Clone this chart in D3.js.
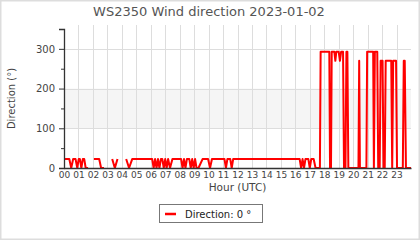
<!DOCTYPE html>
<html lang="en">
<head>
  <meta charset="UTF-8">
  <title>WS2350 Wind direction</title>
  <script src="https://d3js.org/d3.v7.min.js"></script>
  <style>
    body { margin: 0; background: #fff; }
    text { font-family: "DejaVu Sans", sans-serif; fill: #444; }
    .grid { stroke: #ddd; stroke-width: 1; }
    .axis path, .axis line { stroke: #333; }
  </style>
</head>
<body>
  <svg id="chart" width="420" height="240"></svg>

  <script>
    const title = "WS2350 Wind direction 2023-01-02";
    const hourLabels = ["00","01","02","03","04","05","06","07","08","09","10","11",
                        "12","13","14","15","16","17","18","19","20","21","22","23"];
    const yTicks = [0, 100, 200, 300];
    const yMinorTicks = [50, 150, 250, 350];
    const shadedBand = [100, 200];

    // [minute of day, direction in degrees]; null = no reading
    const windDir = [
      [0,22.5],[22,22.5],[30,0],[38,22.5],[48,22.5],[55,0],[61,22.5],[66,22.5],[72,0],[78,22.5],
      [84,22.5],[90,0],[100,0],[101,null],
      [124,22.5],[146,22.5],[154,0],[166,0],[167,null],
      [200,22.5],[211,0],[222,22.5],[223,null],
      [258,22.5],[270,0],[283,22.5],
      [366,22.5],[372,0],[378,22.5],[384,0],[390,22.5],[396,0],[402,22.5],[408,22.5],[414,0],
      [420,22.5],[426,0],[432,22.5],[440,0],[450,22.5],
      [486,22.5],[492,0],[498,22.5],[504,0],[510,22.5],[520,22.5],[526,0],[532,22.5],[538,0],
      [544,22.5],[550,0],[558,0],[575,22.5],
      [598,22.5],[606,0],[614,22.5],
      [666,22.5],[672,0],[678,22.5],[690,22.5],[696,0],[702,22.5],
      [978,22.5],[984,0],[990,22.5],[996,0],[1002,22.5],[1014,22.5],[1020,0],[1026,22.5],
      [1036,22.5],[1044,0],[1062,0],
      [1065,292.5],[1101,292.5],[1104,0],[1108,0],[1111,292.5],[1122,292.5],[1126,270],[1130,292.5],
      [1140,292.5],[1145,270],[1150,292.5],[1158,292.5],[1162,0],[1168,0],[1172,292.5],[1176,292.5],
      [1180,0],[1222,0],[1225,270],[1228,0],[1255,0],[1258,292.5],[1283,292.5],[1286,0],
      [1290,292.5],[1300,292.5],[1304,0],[1310,0],[1314,270],[1322,270],[1326,0],[1331,0],
      [1335,270],[1358,270],[1362,0],[1366,270],[1378,270],[1382,0],[1406,0],[1410,270],
      [1414,270],[1419,0],[1440,0]
    ];

    const svg = d3.select("#chart");
    const W = 420, H = 240;
    const mLeft = 64, mRight = 411, mTop = 29, mBottom = 168;

    const x = d3.scaleLinear().domain([0, 1440]).range([mLeft, mRight]);
    const y = d3.scaleLinear().domain([0, 350]).range([mBottom, mTop]);

    // outer frame
    svg.append("rect")
      .attr("x", 0.75).attr("y", 0.75)
      .attr("width", W - 1.5).attr("height", H - 1.5)
      .attr("fill", "#fff").attr("stroke", "#ddd").attr("stroke-width", 1.5);

    // shaded band
    svg.append("rect")
      .attr("x", mLeft).attr("y", y(shadedBand[1]))
      .attr("width", mRight - mLeft).attr("height", y(shadedBand[0]) - y(shadedBand[1]))
      .attr("fill", "#f5f5f5");

    // grid
    svg.selectAll(".vgrid")
      .data(hourLabels.slice(1))
      .enter().append("line")
      .attr("class", "grid")
      .attr("x1", (d, i) => Math.round(x((i + 1) * 60)) + 0.5)
      .attr("x2", (d, i) => Math.round(x((i + 1) * 60)) + 0.5)
      .attr("y1", 25).attr("y2", mBottom);

    svg.selectAll(".hgrid")
      .data(yTicks.slice(1))
      .enter().append("line")
      .attr("class", "grid")
      .attr("x1", mLeft).attr("x2", mRight)
      .attr("y1", d => Math.round(y(d)) + 0.5)
      .attr("y2", d => Math.round(y(d)) + 0.5);

    // data line
    const line = d3.line()
      .defined(d => d[1] != null)
      .x(d => x(d[0]))
      .y(d => y(d[1]));

    svg.append("path")
      .datum(windDir)
      .attr("fill", "none")
      .attr("stroke", "#ff0000")
      .attr("stroke-width", 2)
      .attr("stroke-linejoin", "round")
      .attr("d", line);

    // y axis
    const yAxis = svg.append("g")
      .attr("class", "axis")
      .attr("transform", `translate(${mLeft},0)`)
      .call(d3.axisLeft(y).tickValues(yTicks).tickSize(5).tickPadding(4));
    yAxis.selectAll("text").style("font-size", "10px").attr("fill", "#444");
    yAxis.select(".domain").attr("stroke-width", 1.3);

    svg.append("g")
      .attr("class", "axis")
      .attr("transform", `translate(${mLeft},0)`)
      .call(d3.axisLeft(y).tickValues(yMinorTicks).tickSize(3).tickFormat(""))
      .select(".domain").remove();

    // x axis
    const xAxis = svg.append("g")
      .attr("class", "axis")
      .attr("transform", `translate(0,${mBottom})`)
      .call(d3.axisBottom(x)
        .tickValues(hourLabels.map((d, i) => i * 60))
        .tickFormat((d, i) => hourLabels[i])
        .tickSize(0).tickPadding(4));
    xAxis.selectAll("text").style("font-size", "9px").attr("fill", "#444");
    xAxis.select(".domain").attr("stroke-width", 1.5);

    // titles
    svg.append("text")
      .attr("x", 209).attr("y", 16)
      .attr("text-anchor", "middle")
      .style("font-size", "13px")
      .style("fill", "#555")
      .text(title);

    svg.append("text")
      .attr("transform", `translate(15,${(mTop + mBottom) / 2}) rotate(-90)`)
      .attr("text-anchor", "middle")
      .style("font-size", "10px")
      .text("Direction (°)");

    svg.append("text")
      .attr("x", (mLeft + mRight) / 2).attr("y", 191)
      .attr("text-anchor", "middle")
      .style("font-size", "10.5px")
      .text("Hour (UTC)");

    // legend
    const lg = svg.append("g");
    lg.append("rect")
      .attr("x", 159.5).attr("y", 204.5)
      .attr("width", 103).attr("height", 18)
      .attr("fill", "#fff").attr("stroke", "#777");
    lg.append("line")
      .attr("x1", 165).attr("x2", 176)
      .attr("y1", 214).attr("y2", 214)
      .attr("stroke", "#ff0000").attr("stroke-width", 2.5);
    lg.append("text")
      .attr("x", 185).attr("y", 217.5)
      .style("font-size", "10px")
      .style("fill", "#222")
      .text("Direction: 0 °");
  </script>
</body>
</html>
